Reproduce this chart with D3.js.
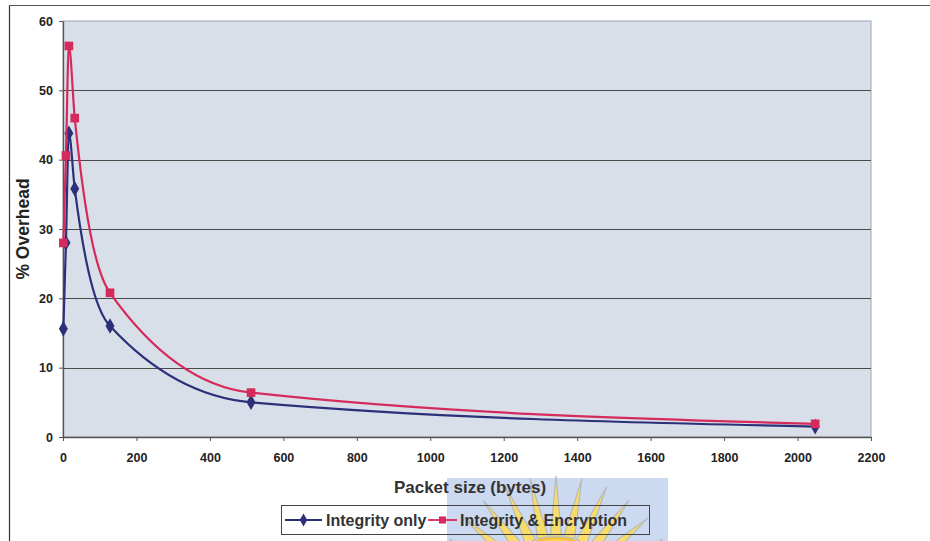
<!DOCTYPE html>
<html>
<head>
<meta charset="utf-8">
<script src="https://cdn.jsdelivr.net/npm/d3@7"></script>
<style>
  html, body { margin: 0; padding: 0; background: #fff; }
  svg { display: block; font-family: "Liberation Sans", Arial, sans-serif; }
</style>
</head>
<body>
<svg id="chart" width="930" height="541"></svg>
<script>
// Packet sizes (bytes) and percentage overhead for each scheme
const packetSizes = [1, 8, 16, 32, 128, 512, 2048];
const integrityOnly = [15.6, 28.0, 43.8, 35.8, 16.0, 5.0, 1.5];
const integrityEncryption = [28.0, 40.6, 56.4, 46.0, 20.8, 6.4, 1.9];
const xTicks = [0, 200, 400, 600, 800, 1000, 1200, 1400, 1600, 1800, 2000, 2200];
const yTicks = [0, 10, 20, 30, 40, 50, 60];
const seriesNames = ["Integrity only", "Integrity & Encryption"];

const svg = d3.select("#chart");
const plot = { left: 63, right: 871, top: 21, bottom: 437 };

const x = d3.scaleLinear().domain([0, 2200]).range([plot.left, plot.right]);
const y = d3.scaleLinear().domain([0, 60]).range([plot.bottom, plot.top]);

const blue = "#2b3079";
const red = "#d42a5c";

// outer frame of the figure
svg.append("line").attr("x1", 9.5).attr("x2", 9.5).attr("y1", 5).attr("y2", 541)
  .attr("stroke", "#333").attr("stroke-width", 1.2);
svg.append("line").attr("x1", 9).attr("x2", 930).attr("y1", 5.5).attr("y2", 5.5)
  .attr("stroke", "#555").attr("stroke-width", 1.2);

// plot area background
svg.append("rect")
  .attr("x", plot.left).attr("y", plot.top)
  .attr("width", plot.right - plot.left).attr("height", plot.bottom - plot.top)
  .attr("fill", "#d9dfe9").attr("stroke", "#9aa3b5").attr("stroke-width", 1);

// horizontal gridlines
svg.append("g").selectAll("line").data(yTicks.filter(d => d > 0 && d < 60)).join("line")
  .attr("x1", plot.left).attr("x2", plot.right)
  .attr("y1", d => Math.round(y(d)) + 0.5).attr("y2", d => Math.round(y(d)) + 0.5)
  .attr("stroke", "#4d4a4a").attr("stroke-width", 1);

// axes
const xAxis = svg.append("g")
  .attr("transform", `translate(0,${plot.bottom})`)
  .call(d3.axisBottom(x).tickValues(xTicks).tickFormat(d3.format("d"))
    .tickSize(4).tickPadding(12).tickSizeOuter(0));
const yAxis = svg.append("g")
  .attr("transform", `translate(${plot.left},0)`)
  .call(d3.axisLeft(y).tickValues(yTicks).tickFormat(d3.format("d"))
    .tickSize(4).tickPadding(6).tickSizeOuter(0));

[xAxis, yAxis].forEach(g => {
  g.select(".domain").attr("stroke", "#555").attr("stroke-width", 1.3);
  g.selectAll(".tick line").attr("stroke", "#555");
  g.selectAll(".tick text")
    .attr("fill", "#222").attr("font-size", 12.5).attr("font-weight", "bold")
    .attr("font-family", "'Liberation Sans', Arial, sans-serif");
});

// y axis title
svg.append("text")
  .attr("transform", `translate(29,${(plot.top + plot.bottom) / 2}) rotate(-90)`)
  .attr("text-anchor", "middle").attr("font-size", 17.5).attr("font-weight", "bold")
  .attr("fill", "#222").text("% Overhead");

// watermark crest behind the lower captions
const crest = svg.append("g");
crest.append("rect").attr("x", 447).attr("y", 478).attr("width", 221).attr("height", 63)
  .attr("fill", "#cbdaf1");
const sunCx = 556, sunCy = 598;
d3.range(11).forEach(i => {
  const a = Math.PI * 1.16 + i * (Math.PI * 0.68) / 10;
  const r1 = 62, r2 = 122, w = 0.09;
  const p = [
    [sunCx + r1 * Math.cos(a - w), sunCy + r1 * Math.sin(a - w)],
    [sunCx + r2 * Math.cos(a), sunCy + r2 * Math.sin(a)],
    [sunCx + r1 * Math.cos(a + w), sunCy + r1 * Math.sin(a + w)]
  ];
  crest.append("path").attr("d", d3.line()(p) + "Z")
    .attr("fill", "#f8dc6a").attr("stroke", "#b9b9b9").attr("stroke-width", 1.2);
});
crest.append("circle").attr("cx", sunCx).attr("cy", sunCy).attr("r", 60)
  .attr("fill", "#f8d64c").attr("stroke", "#f2bb3a").attr("stroke-width", 2);

svg.append("text")
  .attr("x", 470).attr("y", 493)
  .attr("text-anchor", "middle").attr("font-size", 17).attr("font-weight", "bold")
  .attr("fill", "#333").text("Packet size (bytes)");

// series lines and markers
const line = d3.line()
  .x(d => x(d[0])).y(d => y(d[1]))
  .curve(d3.curveMonotoneX);

const series = [
  { name: seriesNames[0], values: integrityOnly, color: blue, symbol: d3.symbolDiamond },
  { name: seriesNames[1], values: integrityEncryption, color: red, symbol: d3.symbolSquare }
];

series.forEach(s => {
  const pts = packetSizes.map((p, i) => [p, s.values[i]]);
  svg.append("path").datum(pts)
    .attr("d", line).attr("fill", "none")
    .attr("stroke", s.color).attr("stroke-width", 2.2);
  svg.append("g").selectAll("path").data(pts).join("path")
    .attr("transform", d => `translate(${x(d[0])},${y(d[1])})`)
    .attr("d", d3.symbol().type(s.symbol).size(s.symbol === d3.symbolSquare ? 75 : 70))
    .attr("fill", s.color);
});

// legend
const legend = svg.append("g");
legend.append("rect").attr("x", 281.5).attr("y", 505.5).attr("width", 368).attr("height", 29)
  .attr("fill", "none").attr("stroke", "#444").attr("stroke-width", 1);
const legendItems = [
  { x: 285, len: 37, textX: 326, s: series[0] },
  { x: 428, len: 29, textX: 460, s: series[1] }
];
legendItems.forEach(it => {
  legend.append("line").attr("x1", it.x).attr("x2", it.x + it.len)
    .attr("y1", 520).attr("y2", 520).attr("stroke", it.s.color).attr("stroke-width", 1.8);
  legend.append("path")
    .attr("transform", `translate(${it.x + it.len / 2},520)`)
    .attr("d", d3.symbol().type(it.s.symbol).size(50))
    .attr("fill", it.s.color);
  legend.append("text").attr("x", it.textX).attr("y", 525.5)
    .attr("font-size", 16).attr("font-weight", "bold").attr("fill", "#333")
    .text(it.s.name);
});
</script>
</body>
</html>
